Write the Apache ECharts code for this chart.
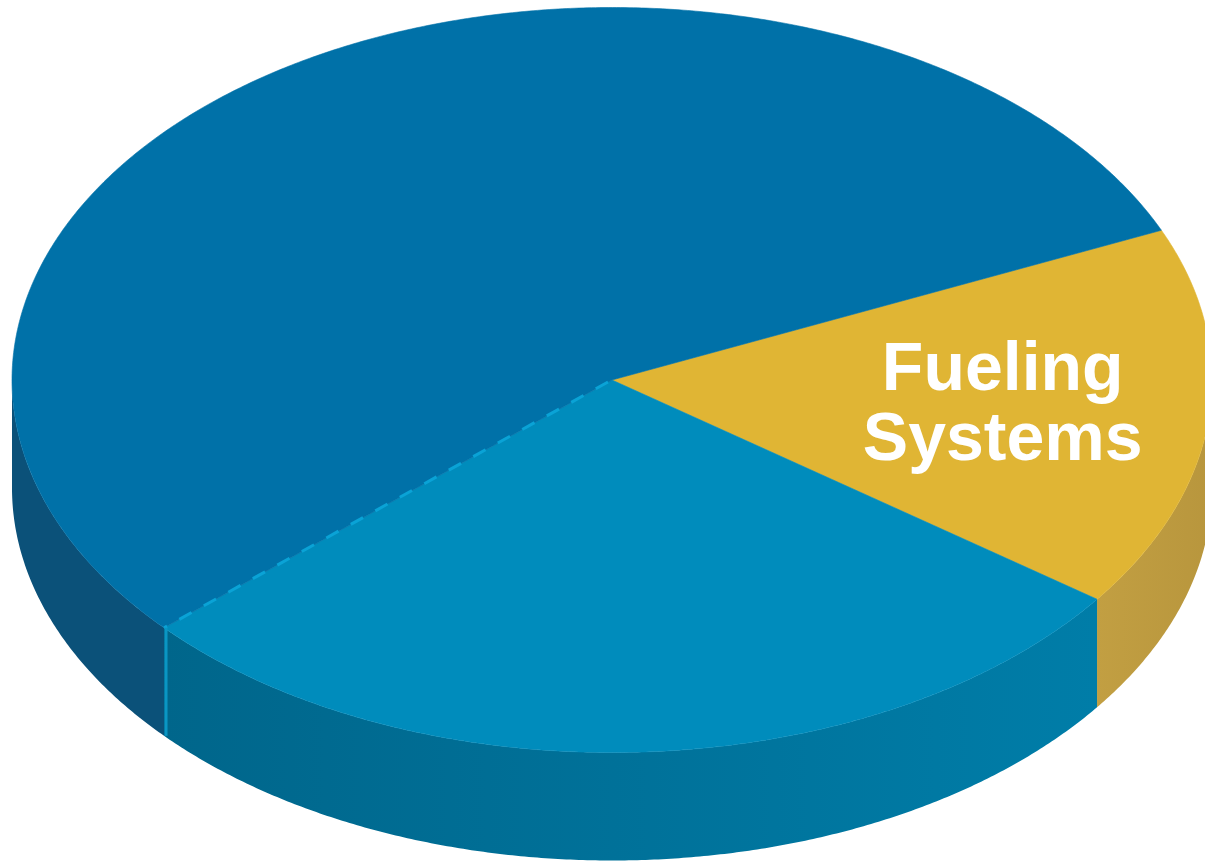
<!DOCTYPE html>
<html>
<head>
<meta charset="utf-8">
<title>Fueling Systems share</title>
<script src="https://cdn.jsdelivr.net/npm/echarts@6/dist/echarts.min.js"></script>
<style>
  html, body { margin: 0; padding: 0; background: #ffffff; }
  #chart { width: 1205px; height: 861px; }
</style>
</head>
<body>
<div id="chart"></div>
<script>
// Slice data (percent shares), drawn clockwise from the start angle
const sliceNames = ['Fueling Systems', 'Segment B', 'Segment C'];
const sliceValues = [16.6, 28.4, 55.0];
const sliceLabels = ['Fueling\nSystems', '', ''];

// Colours: top face, side wall (left / right of gradient)
const topColors = ['#E0B534', '#008CBC', '#0071A8'];
const sideColorsL = ['#C29F42', '#00668B', '#0B5179'];
const sideColorsR = ['#B8963D', '#007DA8', '#0B5179'];

// Projection of the tilted disc
const CX = 612, CY = 380, RX = 600, RY = 372.5, DEPTH = 108;
const START_ANGLE = 23.7;

const total = sliceValues.reduce((a, b) => a + b, 0);
const bounds = [];
(function () {
  let a = START_ANGLE;
  for (const v of sliceValues) {
    const span = v / total * 360;
    bounds.push([a, a - span]);
    a -= span;
  }
})();

function pt(deg, dy) {
  const r = deg * Math.PI / 180;
  return [CX + RX * Math.cos(r), CY - RY * Math.sin(r) + (dy || 0)];
}
function arc(from, to, dy) {
  const n = Math.max(2, Math.ceil(Math.abs(from - to) / 0.4));
  const pts = [];
  for (let i = 0; i <= n; i++) pts.push(pt(from + (to - from) * i / n, dy));
  return pts;
}

function renderItem(params, api) {
  const i = params.dataIndex;
  const [s, e] = bounds[i];
  const children = [];

  // visible side wall: the part of the rim facing the viewer
  for (let k = -2; k <= 1; k++) {
    const lo = Math.max(e, -180 + 360 * k);
    const hi = Math.min(s, 360 * k);
    if (hi - lo > 0.01) {
      const top = arc(hi, lo, 0);
      const bot = arc(lo, hi, DEPTH);
      const xs = top.map(p => p[0]);
      children.push({
        type: 'polygon',
        z2: 1,
        shape: { points: top.concat(bot) },
        style: {
          fill: {
            type: 'linear', global: true,
            x: Math.min(...xs), y: 0, x2: Math.max(...xs), y2: 0,
            colorStops: [
              { offset: 0, color: sideColorsL[i] },
              { offset: 1, color: sideColorsR[i] }
            ]
          },
          stroke: null
        }
      });
    }
  }

  // top face
  children.push({
    type: 'polygon',
    z2: 10,
    shape: { points: [[CX, CY]].concat(arc(s, e, 0)) },
    style: { fill: topColors[i], stroke: topColors[i], lineWidth: 0.6 }
  });

  // highlighted trailing edge of the middle slice
  if (i === 1) {
    const rim = pt(e, 0);
    children.push({
      type: 'line', z2: 12,
      shape: { x1: CX - 4, y1: CY + 2, x2: rim[0], y2: rim[1] },
      style: { stroke: '#0AA3D6', lineWidth: 3, lineDash: [14, 14] }
    });
    children.push({
      type: 'line', z2: 12,
      shape: { x1: rim[0] + 2, y1: rim[1], x2: rim[0] + 2, y2: rim[1] + DEPTH },
      style: { stroke: '#0A96C4', lineWidth: 3 }
    });
  }

  // slice label
  if (sliceLabels[i]) {
    const mid = (s + e) / 2;
    const r = mid * Math.PI / 180;
    children.push({
      type: 'text', z2: 20,
      x: CX + RX * 0.655 * Math.cos(r),
      y: CY - RY * 0.655 * Math.sin(r),
      style: {
        text: sliceLabels[i],
        fill: '#ffffff',
        font: 'bold 68px "Liberation Sans", Arial, sans-serif',
        align: 'center',
        verticalAlign: 'middle',
        lineHeight: 70
      }
    });
  }

  return { type: 'group', children };
}

const chart = echarts.init(document.getElementById('chart'), null, { renderer: 'canvas' });
chart.setOption({
  backgroundColor: '#ffffff',
  animation: false,
  series: [{
    type: 'custom',
    coordinateSystem: 'none',
    silent: true,
    renderItem: renderItem,
    data: sliceValues.map((v, i) => ({ name: sliceNames[i], value: v }))
  }]
});
</script>
</body>
</html>
